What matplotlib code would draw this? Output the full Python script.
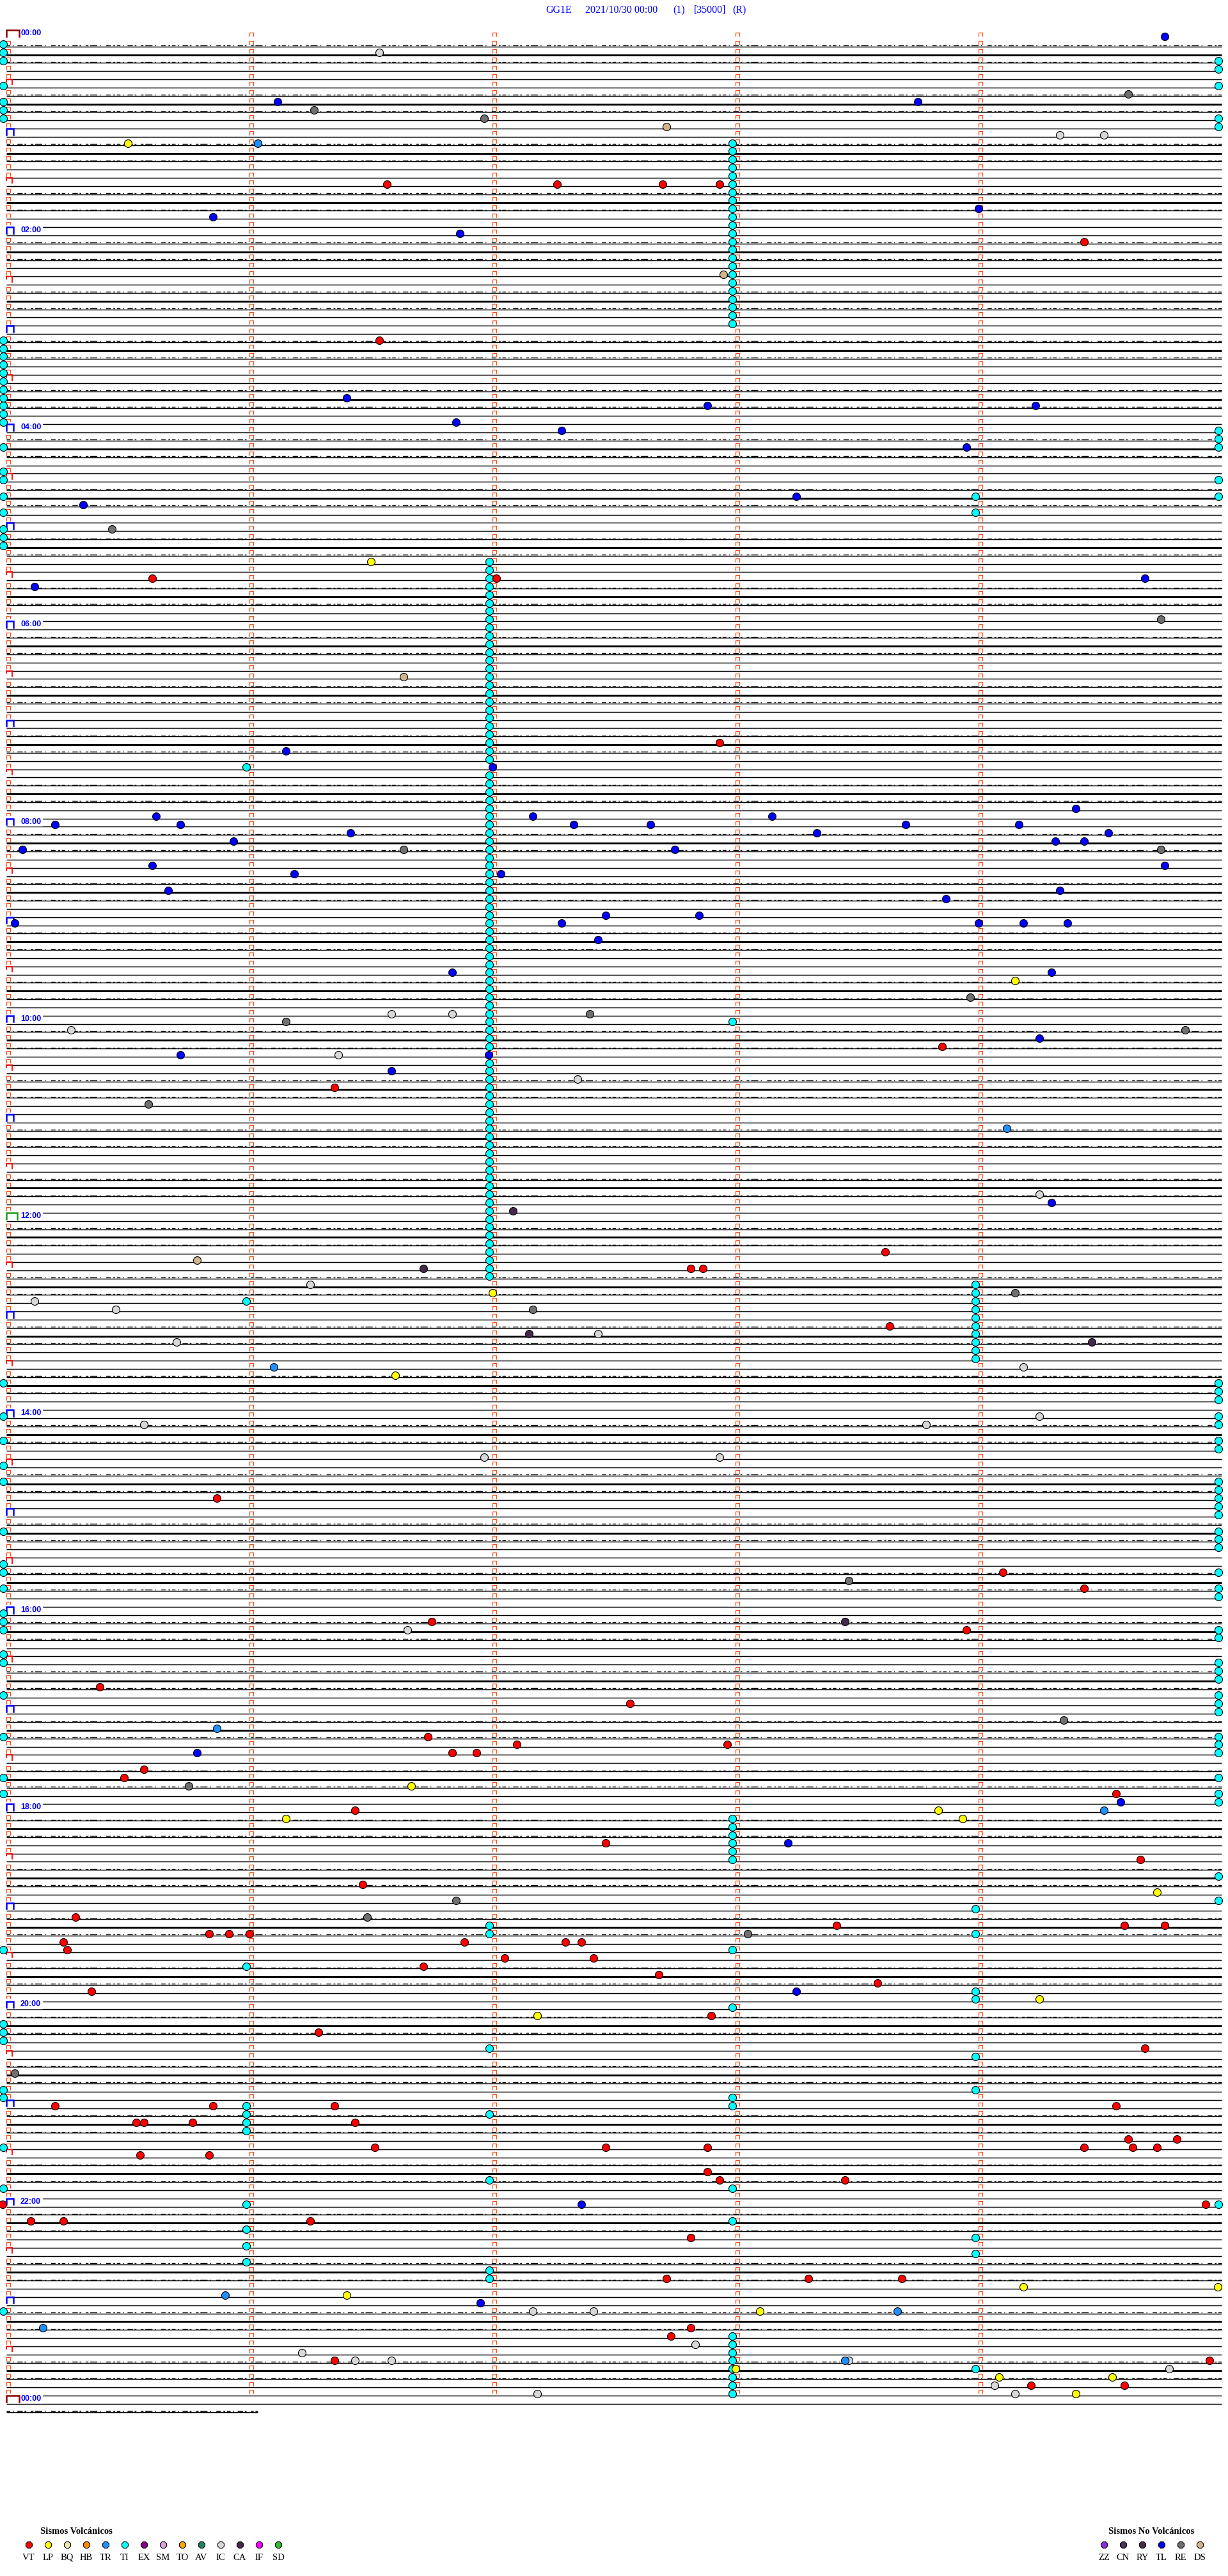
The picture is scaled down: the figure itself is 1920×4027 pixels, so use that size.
# helicorder GG1E 2021/10/30
import numpy as np
import matplotlib
matplotlib.use('Agg')
import matplotlib.pyplot as plt
from matplotlib.path import Path
from matplotlib.patches import Rectangle

plt.rcParams['lines.scale_dashes'] = False

W, H = 1920, 4027
X0_PX, PX_PER_SEC = 10.0, 1900.0 / 300.0
Y0_PX, PX_PER_LINE = 72.7, 12.84

N_LINES = 288          # 5-minute lines, 24 h
LAST_SEC = 62          # partial next-day line

# trace style, repeats every 30 minutes: N noisy, T thick, t thin
style_cycle = 'NTNttt'

# ---------------- event data (line index, second inside the line) -------------
TI_left = [0, 1, 2, 5, 7, 8, 9, 36, 37, 38, 39, 40, 41, 42, 43, 44, 45, 46, 49, 52, 53, 55,
           57, 59, 60, 61, 163, 167, 170, 173, 175, 181, 185, 186, 188, 191, 192, 193, 196,
           197, 201, 206, 211, 213, 232, 241, 242, 243, 249, 250, 256, 261, 276]
TI_m1 = [88, 153, 234, 251, 252, 253, 254, 263, 266, 268, 270]
TI_m2 = [63, 64, 65, 66, 67, 68, 69, 70, 71, 72, 73, 74, 75, 76, 77, 78, 79, 80, 81, 82, 83,
         84, 85, 86, 87, 89, 90, 91, 92, 93, 94, 95, 96, 97, 98, 99, 100, 101, 102, 103,
         104, 105, 106, 107, 108, 109, 110, 111, 112, 113, 114, 115, 116, 117, 118, 119, 120,
         121, 122, 124, 125, 126, 127, 128, 129, 130, 131, 132, 133, 134, 135, 136, 137, 138,
         139, 140, 141, 142, 143, 144, 145, 146, 147, 148, 149, 150, 229, 230, 244, 252, 260,
         271, 272]
TI_m3 = [12, 13, 14, 15, 16, 17, 18, 19, 20, 21, 22, 23, 24, 25, 26, 27, 28, 29, 30, 31, 32,
         33, 34, 119, 216, 217, 218, 219, 220, 221, 232, 239, 250, 251, 261, 265, 279, 280,
         281, 282, 283, 284, 285, 286]
TI_m4 = [55, 57, 151, 152, 153, 154, 155, 156, 157, 158, 159, 160, 227, 230, 237, 238, 245,
         249, 267, 269, 283]
TI_right = [2, 3, 5, 9, 10, 47, 48, 49, 53, 55, 163, 164, 165, 167, 168, 170, 171, 175, 176,
            177, 178, 179, 181, 182, 183, 186, 188, 189, 193, 194, 197, 198, 199, 201, 202,
            203, 206, 207, 208, 211, 213, 214, 223, 226, 263]
TI_sec = [-0.8, 59.2, 119.2, 179.2, 239.2, 299.2]

VT = [(17, 94), (17, 136), (17, 162), (17, 176), (24, 266), (36, 92), (65, 36), (65, 121),
      (85, 176), (122, 231), (127, 81), (147, 217), (149, 169), (149, 172), (156, 218),
      (177, 52), (186, 246), (188, 266), (192, 105), (193, 237), (200, 23), (202, 154),
      (206, 104), (207, 126), (207, 178), (208, 110), (208, 116), (210, 34), (211, 29),
      (213, 274), (215, 86), (219, 148), (221, 280), (224, 88), (228, 17), (229, 205),
      (229, 276), (229, 286), (230, 50), (230, 55), (230, 60), (231, 14), (231, 113),
      (231, 138), (231, 142), (232, 15), (233, 123), (233, 145), (234, 103), (235, 161),
      (236, 215), (237, 21), (240, 174), (242, 77), (244, 281), (251, 12), (251, 51),
      (251, 81), (251, 274), (253, 32), (253, 34), (253, 46), (253, 86), (255, 277),
      (255, 289), (256, 91), (256, 148), (256, 173), (256, 266), (256, 278), (256, 284),
      (257, 33), (257, 50), (259, 173), (260, 176), (260, 207), (263, 296), (263, -1),
      (265, 6), (265, 14), (265, 75), (267, 169), (272, 163), (272, 198), (272, 221),
      (278, 169), (279, 164), (282, 81), (282, 297), (285, 253), (285, 276)]
LP = [(12, 30), (63, 90), (114, 249), (152, 120), (162, 96), (212, 100), (216, 69), (215, 230),
      (216, 236), (225, 284), (238, 255), (240, 131), (273, 251), (273, 299), (274, 84),
      (276, 186), (283, 180), (284, 245), (284, 273), (286, 264)]
TR = [(12, 62), (132, 247), (161, 66), (205, 52), (215, 271), (274, 54), (276, 220), (278, 9),
      (282, 207)]
IC = [(1, 92), (11, 260), (11, 271), (118, 95), (118, 110), (120, 16), (123, 82), (126, 141),
      (140, 255), (151, 75), (153, 7), (154, 27), (157, 146), (158, 42), (161, 251),
      (167, 255), (168, 34), (168, 227), (172, 118), (172, 176), (193, 99), (276, 130),
      (276, 145), (280, 170), (281, 73), (282, 86), (282, 95), (282, 208), (283, 287),
      (285, 244), (286, 249), (286, 131)]
CA = [(142, 125), (149, 103), (157, 129), (158, 268), (192, 207)]
TL = [(-1, 286), (7, 225), (7, 67), (21, 51), (20, 240), (23, 112), (43, 84), (44, 173),
      (44, 254), (46, 111), (47, 137), (49, 237), (55, 195), (56, 19), (65, 281), (66, 7),
      (86, 69), (88, 120), (93, 264), (94, 37), (94, 130), (94, 189), (95, 12), (95, 43),
      (95, 140), (95, 159), (95, 222), (95, 250), (96, 200), (96, 85), (96, 272), (97, 56),
      (97, 259), (97, 266), (98, 4), (98, 165), (100, 36), (100, 286), (101, 71), (101, 122),
      (103, 40), (103, 260), (104, 232), (106, 148), (106, 171), (107, 2), (107, 137),
      (107, 240), (107, 251), (107, 262), (109, 146), (113, 110), (113, 258), (121, 255),
      (123, 43), (123, 119), (125, 95), (141, 258), (208, 47), (214, 275), (219, 193),
      (237, 195), (263, 142), (275, 117)]
RE = [(6, 277), (8, 76), (9, 118), (59, 26), (70, 285), (98, 98), (98, 285), (116, 238),
      (119, 69), (118, 144), (120, 291), (129, 35), (152, 249), (154, 130), (187, 208),
      (204, 261), (212, 45), (226, 111), (228, 89), (230, 183), (247, 2)]
DS = [(10, 163), (28, 177), (77, 98), (148, 47)]

vol_types = ['VT', 'LP', 'BQ', 'HB', 'TR', 'TI', 'EX', 'SM', 'TO', 'AV', 'IC', 'CA', 'IF', 'SD']
vol_colors = ['#ff0000', '#ffff00', '#eee8aa', '#ff8c00', '#1e90ff', '#00ffff', '#8b008b',
              '#e0a0e0', '#ffa500', '#208060', '#d8d8d8', '#44294a', '#ff00ff', '#30c030']
nv_types = ['ZZ', 'CN', 'RY', 'TL', 'RE', 'DS']
nv_colors = ['#8a2be2', '#4b3560', '#4a2a4a', '#0000ff', '#707070', '#d2b48c']
col = dict(zip(vol_types + nv_types, vol_colors + nv_colors))

title_parts = ['GG1E', '2021/10/30 00:00', '(1)', '[35000]', '(R)']
title_x = [853, 915, 1052, 1085, 1145]

# ---------------- figure ----------------
fig = plt.figure(figsize=(W / 100, H / 100), dpi=100)
ax = fig.add_axes([0, 0, 1, 1])
ax.set_xlim(-X0_PX / PX_PER_SEC, (W - X0_PX) / PX_PER_SEC)
ax.set_ylim((H - Y0_PX) / PX_PER_LINE, -Y0_PX / PX_PER_LINE)
ax.axis('off')

# traces
for L in range(N_LINES + 1):
    end = 300 if L < N_LINES else LAST_SEC
    s = style_cycle[L % 6]
    if s == 'T':
        ax.plot([0, end], [L, L], color='black', lw=2.1, solid_capstyle='butt', zorder=2)
    else:
        ax.plot([0, end], [L, L], color='black', lw=1.05, solid_capstyle='butt', zorder=2)
    if s == 'N':
        ax.plot([0, end], [L - 0.12, L - 0.12], color='black', lw=1.0,
                linestyle=(0, (4, 3, 1, 4, 6, 2, 2, 5, 3, 2, 8, 3, 1, 6, 5, 3, 2, 2)), zorder=2)

# minute marks
cap = Path([(-1, -1), (-1, 1), (1, 1), (1, -1)],
           [Path.MOVETO, Path.LINETO, Path.LINETO, Path.LINETO])
rows = np.arange(-1, N_LINES - 1)
for m in range(5):
    r = rows if m > 0 else rows[(rows + 1) % 6 != 0]
    ax.plot(np.full(len(r), m * 60 + 0.5), r - 0.43, linestyle='none', marker=cap,
            ms=4.4, mfc='none', mec='#ff4a10', mew=0.9, zorder=3)

# hour / half-hour brackets and labels
def bracket(L, width_px, color, lw, right_leg=0.75, left_leg=0.75):
    w = width_px / PX_PER_SEC
    ax.plot([0, 0, w, w], [L - 2.0 + left_leg, L - 2.0, L - 2.0, L - 2.0 + right_leg],
            color=color, lw=lw, solid_joinstyle='miter', zorder=6)

for h in range(25):
    L = 12 * h
    if h % 2 == 0:
        ax.add_patch(Rectangle((0, L - 2.25), 56 / PX_PER_SEC, 1.1, color='white', zorder=5))
        ax.text(22 / PX_PER_SEC, L - 1.62, '%02d:00' % (h % 24), color='#0000ff',
                fontsize=9, fontweight='bold', family='Liberation Sans', va='center',
                ha='left', zorder=6)
    if h % 24 == 0:
        bracket(L, 20, '#8b0000', 1.8)
    elif h == 12:
        bracket(L, 17, '#1a9a1a', 1.8)
    else:
        bracket(L, 11, '#0000ff', 1.8)
    if h < 24:
        bracket(L + 6, 9, '#ff0000', 1.3, right_leg=0.65, left_leg=0.3)

# events
ev_kw = dict(linestyle='none', marker='o', ms=8.6, mec='black', mew=0.8, zorder=7)
ti_lists = [TI_left, TI_m1, TI_m2, TI_m3, TI_m4, TI_right]
for lines, sec in zip(ti_lists, TI_sec):
    ax.plot(np.full(len(lines), sec), np.array(lines) - 0.25, mfc=col['TI'], **ev_kw)
for name, evs in [('DS', DS), ('RE', RE), ('IC', IC), ('CA', CA), ('TR', TR),
                  ('LP', LP), ('TL', TL), ('VT', VT)]:
    ln = np.array([e[0] for e in evs])
    sc = np.array([e[1] for e in evs])
    ax.plot(sc, ln - 0.25, mfc=col[name], **ev_kw)

# title and legends (pixel layout)
lay = fig.add_axes([0, 0, 1, 1], facecolor='none')
lay.set_xlim(0, W)
lay.set_ylim(H, 0)
lay.axis('off')
for t, x in zip(title_parts, title_x):
    lay.text(x, 16, t, color='#0000ff', fontsize=11.5, family='Liberation Serif',
             ha='left', va='center')

lay.text(63, 3957, 'Sismos Volcánicos', fontsize=10.5, fontweight='bold',
         family='Liberation Serif', ha='left', va='center')
for i, (t, c) in enumerate(zip(vol_types, vol_colors)):
    x = 45 + i * 30.0
    lay.plot(x, 3978, marker='8', ms=8.5, mfc=c, mec='black', mew=0.8)
    lay.text(x, 3998, t, fontsize=10.5, family='Liberation Serif', ha='center', va='center')

lay.text(1733, 3957, 'Sismos No Volcánicos', fontsize=10.5, fontweight='bold',
         family='Liberation Serif', ha='left', va='center')
for i, (t, c) in enumerate(zip(nv_types, nv_colors)):
    x = 1726 + i * 30.0
    lay.plot(x, 3978, marker='8', ms=8.5, mfc=c, mec='black', mew=0.8)
    lay.text(x, 3998, t, fontsize=10.5, family='Liberation Serif', ha='center', va='center')

fig.savefig('out.png', dpi=100)
